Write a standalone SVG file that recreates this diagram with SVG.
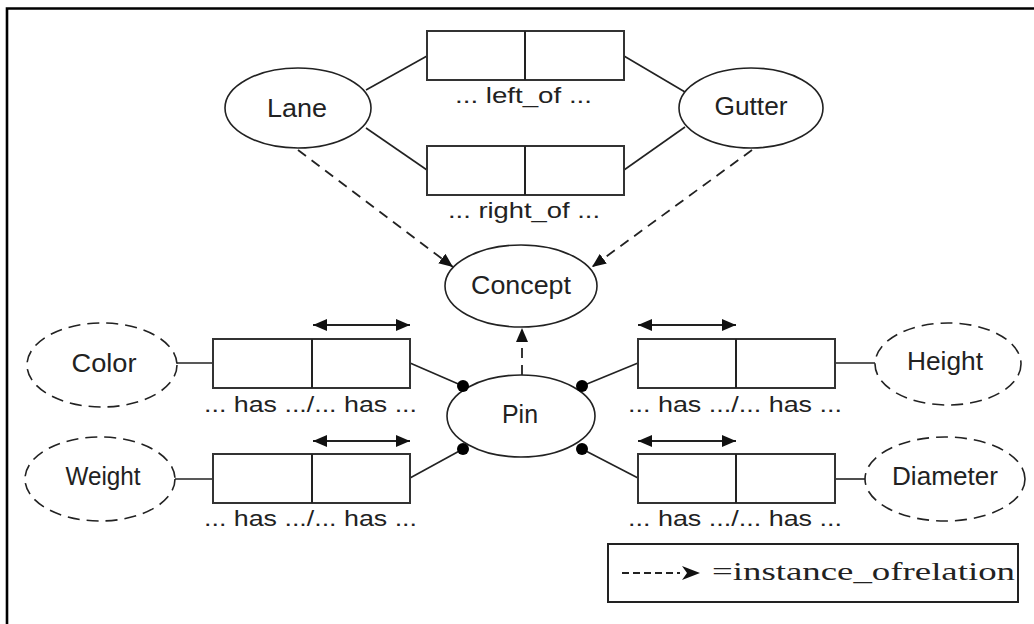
<svg xmlns="http://www.w3.org/2000/svg" width="1034" height="624" viewBox="0 0 1034 624">
<style>
.bg{fill:#fff}
.node{fill:#fff;stroke:#222;stroke-width:1.6}
.dnode{fill:#fff;stroke:#222;stroke-width:1.6;stroke-dasharray:12 7}
.box{fill:#fff;stroke:#333;stroke-width:2}
.div{stroke:#222;stroke-width:2}
.ln{fill:none;stroke:#222;stroke-width:1.6}
.dash{fill:none;stroke:#222;stroke-width:1.8;stroke-dasharray:10 7}
.dbl{fill:none;stroke:#222;stroke-width:1.8}
.lbl{font-family:"Liberation Sans",Arial,sans-serif;font-size:25px;fill:#222;text-anchor:middle}
.rel{font-family:"Liberation Sans",Arial,sans-serif;font-size:22px;fill:#222;text-anchor:middle}
.leg{font-family:"Liberation Serif","Times New Roman",serif;font-size:26px;fill:#222}
.dot{fill:#000}
</style>
<defs>
<marker id="ah" markerUnits="userSpaceOnUse" markerWidth="16" markerHeight="12" refX="14" refY="6" orient="auto">
<path d="M0,0 L14,6 L0,12 Z" fill="#111"/>
</marker>
<marker id="ahs" markerUnits="userSpaceOnUse" markerWidth="16" markerHeight="12" refX="14" refY="6" orient="auto-start-reverse">
<path d="M0,0 L14,6 L0,12 Z" fill="#111"/>
</marker>
</defs>
<rect class="bg" x="0" y="0" width="1034" height="624"/>
<path d="M7,624 V8.5 H1034" fill="none" stroke="#000" stroke-width="2.6"/>

<g id="connectors">
<line class="ln" x1="366" y1="90" x2="427" y2="56"/>
<line class="ln" x1="366" y1="128" x2="427" y2="170"/>
<line class="ln" x1="624" y1="56" x2="685" y2="92"/>
<line class="ln" x1="624" y1="170" x2="685" y2="127"/>
<line class="dash" x1="298" y1="150" x2="453" y2="267" marker-end="url(#ah)"/>
<line class="dash" x1="752" y1="150" x2="592" y2="267" marker-end="url(#ah)"/>
<line class="dash" x1="522" y1="375" x2="522" y2="328" stroke-dasharray="22 8" marker-end="url(#ah)"/>
<line class="ln" x1="410" y1="363" x2="463" y2="386"/>
<line class="ln" x1="410" y1="478" x2="463" y2="449"/>
<line class="ln" x1="638" y1="363" x2="582" y2="386"/>
<line class="ln" x1="638" y1="478" x2="582" y2="449"/>
<line class="ln" x1="177" y1="363" x2="213" y2="363"/>
<line class="ln" x1="175" y1="479" x2="213" y2="479"/>
<line class="ln" x1="835" y1="363" x2="875" y2="363"/>
<line class="ln" x1="835" y1="479" x2="865" y2="479"/>
<line class="dbl" x1="313" y1="325" x2="410" y2="325" marker-start="url(#ahs)" marker-end="url(#ah)"/>
<line class="dbl" x1="313" y1="441" x2="410" y2="441" marker-start="url(#ahs)" marker-end="url(#ah)"/>
<line class="dbl" x1="638" y1="325" x2="736" y2="325" marker-start="url(#ahs)" marker-end="url(#ah)"/>
<line class="dbl" x1="638" y1="441" x2="736" y2="441" marker-start="url(#ahs)" marker-end="url(#ah)"/>
</g>

<g id="lane">
<ellipse class="node" cx="298" cy="108" rx="73" ry="40"/>
<text class="lbl" x="297" y="117" textLength="60" lengthAdjust="spacingAndGlyphs">Lane</text>
</g>
<g id="gutter">
<ellipse class="node" cx="751" cy="108" rx="72" ry="40"/>
<text class="lbl" x="751" y="115" textLength="73" lengthAdjust="spacingAndGlyphs">Gutter</text>
</g>
<g id="left_of">
<rect class="box" x="427" y="31" width="197" height="49"/>
<line class="div" x1="525" y1="31" x2="525" y2="80"/>
<text class="rel" x="523.5" y="103" textLength="137" lengthAdjust="spacingAndGlyphs">... left_of ...</text>
</g>
<g id="right_of">
<rect class="box" x="427" y="146" width="197" height="49"/>
<line class="div" x1="525" y1="146" x2="525" y2="195"/>
<text class="rel" x="524" y="218" textLength="152" lengthAdjust="spacingAndGlyphs">... right_of ...</text>
</g>
<g id="concept">
<ellipse class="node" cx="521" cy="286" rx="76" ry="41"/>
<text class="lbl" x="521" y="294" textLength="100" lengthAdjust="spacingAndGlyphs">Concept</text>
</g>
<g id="pin">
<ellipse class="node" cx="521" cy="416" rx="74" ry="41"/>
<text class="lbl" x="520" y="423" textLength="36" lengthAdjust="spacingAndGlyphs">Pin</text>
<circle class="dot" cx="463" cy="386" r="6"/>
<circle class="dot" cx="582" cy="386" r="6"/>
<circle class="dot" cx="463" cy="449" r="6"/>
<circle class="dot" cx="582" cy="449" r="6"/>
</g>
<g id="color">
<ellipse class="dnode" cx="102" cy="365" rx="75" ry="42"/>
<text class="lbl" x="104" y="372" textLength="65" lengthAdjust="spacingAndGlyphs">Color</text>
</g>
<g id="weight">
<ellipse class="dnode" cx="100" cy="479" rx="75" ry="42"/>
<text class="lbl" x="103" y="485" textLength="75" lengthAdjust="spacingAndGlyphs">Weight</text>
</g>
<g id="height">
<ellipse class="dnode" cx="948" cy="364" rx="73" ry="41"/>
<text class="lbl" x="945" y="370" textLength="76" lengthAdjust="spacingAndGlyphs">Height</text>
</g>
<g id="diameter">
<ellipse class="dnode" cx="945" cy="479" rx="80" ry="42"/>
<text class="lbl" x="945" y="485" textLength="106" lengthAdjust="spacingAndGlyphs">Diameter</text>
</g>
<g id="has_color">
<rect class="box" x="213" y="339" width="197" height="49"/>
<line class="div" x1="312" y1="339" x2="312" y2="388"/>
<text class="rel" x="310.5" y="412" textLength="213" lengthAdjust="spacingAndGlyphs">... has .../... has ...</text>
</g>
<g id="has_weight">
<rect class="box" x="213" y="454" width="197" height="49"/>
<line class="div" x1="312" y1="454" x2="312" y2="503"/>
<text class="rel" x="310.5" y="526" textLength="213" lengthAdjust="spacingAndGlyphs">... has .../... has ...</text>
</g>
<g id="has_height">
<rect class="box" x="638" y="339" width="197" height="49"/>
<line class="div" x1="736" y1="339" x2="736" y2="388"/>
<text class="rel" x="735" y="412" textLength="214" lengthAdjust="spacingAndGlyphs">... has .../... has ...</text>
</g>
<g id="has_diameter">
<rect class="box" x="638" y="454" width="197" height="49"/>
<line class="div" x1="736" y1="454" x2="736" y2="503"/>
<text class="rel" x="735" y="526" textLength="214" lengthAdjust="spacingAndGlyphs">... has .../... has ...</text>
</g>
<g id="legend">
<rect x="608" y="544" width="410" height="58" fill="#fff" stroke="#222" stroke-width="2"/>
<line x1="622" y1="573" x2="680" y2="573" stroke="#222" stroke-width="2" stroke-dasharray="7 4"/>
<path d="M700,573 L682,566 L687,573 L682,580 Z" fill="#111"/>
<text class="leg" x="712" y="580" textLength="303" lengthAdjust="spacingAndGlyphs">=instance_ofrelation</text>
</g>
</svg>
